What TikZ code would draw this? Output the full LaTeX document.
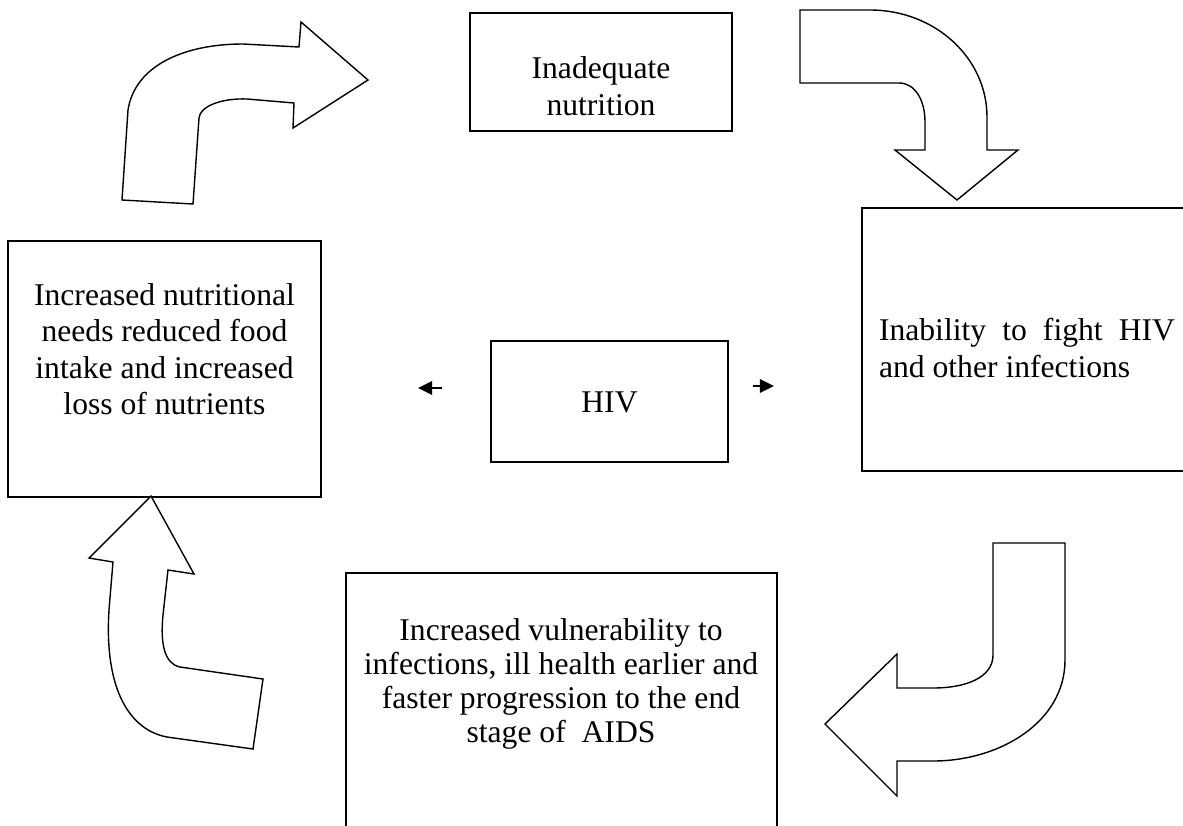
\documentclass[tikz,border=0pt]{standalone}
\usepackage{fontspec}
\setmainfont{Liberation Serif}
\usetikzlibrary{arrows.meta}

\begin{document}
\begin{tikzpicture}[x=0.02cm,y=-0.02cm,
	box/.style={draw,line width=1.2pt,inner sep=0pt},
	lbl/.style={inner sep=0pt,align=center,font=\fontsize{18}{20.7}\selectfont},
	bendarrow/.style={draw,line width=0.8pt,fill=white,line join=miter},
	smallarrow/.style={line width=1.6pt,-{Triangle[length=8pt,width=7.5pt]}}]
	\useasboundingbox (0,0) rectangle (1183,825);
	
	%boxes
	\node[box,minimum width=5.24cm,minimum height=2.36cm] (nutr) at (601,72) {};
	\node[box,minimum width=6.26cm,minimum height=5.12cm] (needs) at (164.5,369) {};
	\node[box,minimum width=4.74cm,minimum height=2.42cm] (hiv) at (609.5,401.5) {};
	\node[box,minimum width=6.66cm,minimum height=5.26cm] (fight) at (1028.5,339.5) {};
	\node[box,minimum width=8.62cm,minimum height=5.74cm] (aids) at (561.5,716.5) {};
	
	%texts
	\node[lbl] (nutrtxt) at (601,86) {Inadequate\\nutrition};
	\node[lbl] (needstxt) at (164.5,349) {Increased nutritional\\needs reduced food\\intake and increased\\loss of nutrients};
	\node[lbl] (hivtxt) at (609.5,402) {HIV};
	\node[lbl,text width=5.92cm,align=justify] (fighttxt) at (1027,348) {Inability to fight HIV\linebreak and other infections};
	\node[lbl,font=\fontsize{18}{19.5}\selectfont] (aidstxt) at (561,684) {Increased vulnerability to\\infections, ill health earlier and\\faster progression to the end\\stage of~ AIDS};
	
	%small arrows beside HIV
	\coordinate (la) at (442,388);
	\coordinate (lb) at (418,388);
	\coordinate (ra) at (753,386);
	\coordinate (rb) at (774,386);
	\draw[smallarrow] (la) -- (lb);
	\draw[smallarrow] (ra) -- (rb);
	
	%bent arrows
	\path[bendarrow] (122,200) -- (128,110) .. controls (135,65) and (185,44) .. (243,44)
		-- (299,47) -- (301,22) -- (368,80) -- (293,128) -- (294,103) -- (247,99)
		.. controls (222,98) and (200,106) .. (199,118) -- (193,204) -- cycle;
	\path[bendarrow] (800,10) -- (870,10) .. controls (935,10) and (987,58) .. (987,117)
		-- (987,150) -- (1018,150) -- (957,200) -- (895,150) -- (925,150) -- (925,122)
		.. controls (925,100) and (915,83) .. (899,83) -- (800,83) -- cycle;
	\path[bendarrow] (993,543) -- (1065,543) -- (1065,660) .. controls (1065,722) and (1000,761) .. (933,761)
		-- (897,761) -- (897,796) -- (825,724) -- (897,654) -- (897,688) -- (933,688)
		.. controls (967,688) and (993,677) .. (993,655) -- cycle;
	\path[bendarrow] (113,562) -- (109,610) .. controls (104,690) and (130,730) .. (167,737)
		-- (253,749) -- (263,679) -- (180,667) .. controls (165,664) and (160,645) .. (163,615)
		-- (168,570) -- (194,574) -- (151,496) -- (89,558) -- cycle;
\end{tikzpicture}
\end{document}
